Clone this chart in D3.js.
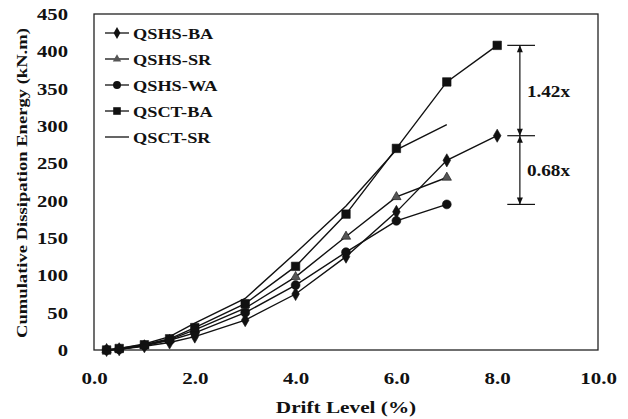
<!DOCTYPE html>
<html>
<head>
<meta charset="utf-8">
<script src="https://cdn.jsdelivr.net/npm/d3@7"></script>
<style>
	body { margin: 0; background: #fff; }
	svg { display: block; }
	text { font-family: "Liberation Serif", "Times New Roman", serif; font-weight: bold; fill: #111; }
</style>
</head>
<body>
<div id="chart"></div>
<script>
var drift = [0.25, 0.5, 1.0, 1.5, 2.0, 3.0, 4.0, 5.0, 6.0, 7.0, 8.0];

var qshsBA = [0, 1, 5, 10, 18, 40, 75, 125, 185, 254, 287];
var qshsSR = [0, 1, 6, 14, 27, 56, 98, 152, 205, 231];
var qshsWA = [0, 1, 6, 13, 23, 50, 87, 131, 173, 195];
var qsctBA = [0, 2, 7, 15, 30, 62, 112, 182, 270, 359, 408];
var qsctSR = [0, 2, 8, 18, 36, 69, 130, 193, 268, 302];

var seriesNames = ["QSHS-BA", "QSHS-SR", "QSHS-WA", "QSCT-BA", "QSCT-SR"];
var seriesValues = [qshsBA, qshsSR, qshsWA, qsctBA, qsctSR];
var seriesMarkers = ["diamond", "triangle", "circle", "square", null];

var xTicks = [0, 2, 4, 6, 8, 10];
var yTicks = [0, 50, 100, 150, 200, 250, 300, 350, 400, 450];

// ratios marked on the right: QSCT-BA / QSHS-BA and QSHS-WA / QSHS-BA at peak
var ratioLabels = ["1.42x", "0.68x"];

var width = 628, height = 419;
var margin = {top: 14, right: 30, bottom: 69, left: 94};
var plotW = width - margin.left - margin.right;
var plotH = height - margin.top - margin.bottom;

var svg = d3.select("#chart").append("svg")
	.attr("width", width)
	.attr("height", height);

var g = svg.append("g")
	.attr("transform", "translate(" + margin.left + "," + margin.top + ")");

var x = d3.scaleLinear().domain([0, 10]).range([0, plotW]);
var y = d3.scaleLinear().domain([0, 450]).range([plotH, 0]);

// frame
g.append("rect")
	.attr("width", plotW)
	.attr("height", plotH)
	.attr("fill", "none")
	.attr("stroke", "#222")
	.attr("stroke-width", 1.3);

// axes (labels only)
var xAxis = g.append("g")
	.attr("transform", "translate(0," + plotH + ")")
	.call(d3.axisBottom(x).tickValues(xTicks).tickSize(0).tickPadding(22)
		.tickFormat(d3.format(".1f")));
xAxis.select(".domain").remove();
xAxis.selectAll("text")
	.attr("font-size", 17.5)
	.style("font-family", "Liberation Serif")
	.style("font-weight", "bold")
	.attr("transform", "scale(1.2,1)");

var yAxis = g.append("g")
	.call(d3.axisLeft(y).tickValues(yTicks).tickSize(0).tickPadding(26));
yAxis.select(".domain").remove();
yAxis.selectAll(".tick text")
	.attr("font-size", 17.5)
	.style("font-family", "Liberation Serif")
	.style("font-weight", "bold")
	.attr("transform", "scale(1.18,1)")
	.attr("x", -26 / 1.18);

// axis titles
svg.append("text")
	.attr("transform", "translate(" + (margin.left + x(5)) + ",413) scale(1.25,1)")
	.attr("text-anchor", "middle")
	.attr("font-size", 17)
	.text("Drift Level (%)");

svg.append("text")
	.attr("transform", "translate(27,183) rotate(-90) scale(1.2,1)")
	.attr("text-anchor", "middle")
	.attr("font-size", 15.5)
	.text("Cumulative Dissipation Energy (kN.m)");

var line = d3.line()
	.x(function(d) { return x(d[0]); })
	.y(function(d) { return y(d[1]); });

var symbolTypes = {
	diamond: {type: d3.symbolDiamond, size: 50},
	triangle: {type: d3.symbolTriangle, size: 38},
	circle: {type: d3.symbolCircle, size: 62},
	square: {type: d3.symbolSquare, size: 72}
};

function drawMarker(sel, kind) {
	if (!kind) return;
	var s = symbolTypes[kind];
	sel.append("path")
		.attr("d", d3.symbol().type(s.type).size(s.size)())
		.attr("fill", kind == "triangle" ? "#555" : "#111")
		.attr("stroke", "#111")
		.attr("stroke-width", 0.6);
}

seriesValues.forEach(function(vals, i) {
	var pts = vals.map(function(v, j) { return [drift[j], v]; });
	g.append("path")
		.datum(pts)
		.attr("d", line)
		.attr("fill", "none")
		.attr("stroke", "#111")
		.attr("stroke-width", 1.4);

	if (seriesMarkers[i]) {
		g.selectAll(".m" + i)
			.data(pts)
			.enter()
			.append("g")
			.attr("class", "m" + i)
			.attr("transform", function(d) {
				return "translate(" + x(d[0]) + "," + y(d[1]) + ")";
			})
			.each(function() { drawMarker(d3.select(this), seriesMarkers[i]); });
	}
});

// legend
var legend = g.append("g").attr("transform", "translate(11,19)");
seriesNames.forEach(function(name, i) {
	var row = legend.append("g").attr("transform", "translate(0," + (i * 26) + ")");
	row.append("line")
		.attr("x1", 0).attr("x2", 24)
		.attr("stroke", "#111").attr("stroke-width", 1.3);
	var m = row.append("g").attr("transform", "translate(12,0)");
	if (seriesMarkers[i]) {
		var s = symbolTypes[seriesMarkers[i]];
		m.append("path")
			.attr("d", d3.symbol().type(s.type).size(s.size * 0.8)())
			.attr("fill", seriesMarkers[i] == "triangle" ? "#555" : "#111");
	}
	row.append("text")
		.attr("transform", "translate(28,5.5) scale(1.22,1)")
		.attr("font-size", 15)
		.text(name);
});

// ratio annotation
var peakBA = d3.max(qsctBA), peakHS = d3.max(qshsBA), peakWA = d3.max(qshsWA);
var ax = x(8.45);
var ann = g.append("g");
[peakBA, peakHS, peakWA].forEach(function(v) {
	ann.append("line")
		.attr("x1", x(8.2)).attr("x2", x(8.75))
		.attr("y1", y(v)).attr("y2", y(v))
		.attr("stroke", "#111").attr("stroke-width", 1.2);
});
ann.append("line")
	.attr("x1", ax).attr("x2", ax)
	.attr("y1", y(peakBA)).attr("y2", y(peakWA))
	.attr("stroke", "#111").attr("stroke-width", 1.2);
ann.append("path")
	.attr("d", "M" + ax + "," + y(peakBA) + "l-3,7h6z")
	.attr("fill", "#111");
ann.append("path")
	.attr("d", "M" + ax + "," + y(peakWA) + "l-3,-7h6z")
	.attr("fill", "#111");
ann.append("path")
	.attr("d", "M" + ax + "," + y(peakHS) + "l-3,7h6z")
	.attr("fill", "#111");
ann.append("path")
	.attr("d", "M" + ax + "," + y(peakHS) + "l-3,-7h6z")
	.attr("fill", "#111");

ann.append("text")
	.attr("transform", "translate(" + (ax + 7) + "," + (y((peakBA + peakHS) / 2) + 6) + ") scale(1.2,1)")
	.attr("font-size", 16)
	.text(ratioLabels[0]);
ann.append("text")
	.attr("transform", "translate(" + (ax + 7) + "," + (y((peakHS + peakWA) / 2) + 6) + ") scale(1.2,1)")
	.attr("font-size", 16)
	.text(ratioLabels[1]);
</script>
</body>
</html>
